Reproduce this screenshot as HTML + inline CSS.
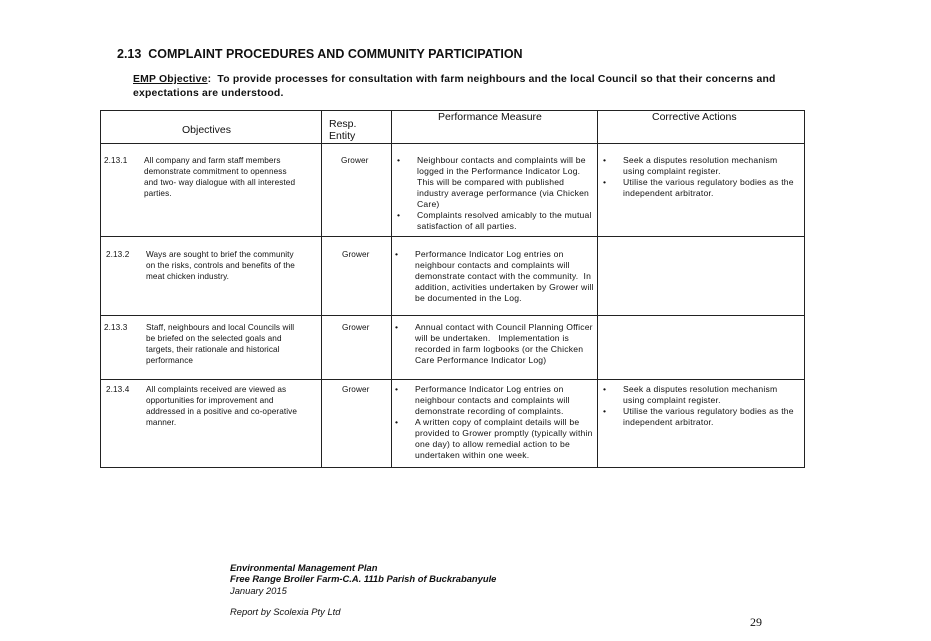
<!DOCTYPE html>
<html><head><meta charset="utf-8"><style>
body{margin:0;width:931px;height:641px;background:#fff;position:relative;overflow:hidden;font-family:"Liberation Sans",sans-serif;color:#111}
.a{position:absolute;white-space:nowrap}
.t{font-size:8.2px;letter-spacing:0.1px;line-height:11px}
.h{position:absolute;background:#222;height:1px}
.v{position:absolute;background:#222;width:1px}
.b{position:absolute}
.b li{list-style:none;position:relative;font-size:8.6px;letter-spacing:0.2px;line-height:11px;white-space:nowrap}
.b li:before{content:"•";position:absolute;left:-20px}
ul{margin:0;padding:0}
.f{font-style:italic;font-size:9.4px;line-height:11px}
</style></head><body>
<div class="a" style="left:117px;top:47px;font-size:12.5px;font-weight:bold">2.13&nbsp; COMPLAINT PROCEDURES AND COMMUNITY PARTICIPATION</div>
<div class="a" style="left:133px;top:73px;font-size:10.4px;letter-spacing:0.2px;font-weight:bold;line-height:14px"><u>EMP Objective</u>:&nbsp; To provide processes for consultation with farm neighbours and the local Council so that their concerns and<br>expectations are understood.</div>

<div class="h" style="left:100px;top:110px;width:705px"></div>
<div class="h" style="left:100px;top:143px;width:705px"></div>
<div class="h" style="left:100px;top:236px;width:705px"></div>
<div class="h" style="left:100px;top:315px;width:705px"></div>
<div class="h" style="left:100px;top:379px;width:705px"></div>
<div class="h" style="left:100px;top:467px;width:705px"></div>
<div class="v" style="left:100px;top:110px;height:358px"></div>
<div class="v" style="left:321px;top:110px;height:358px"></div>
<div class="v" style="left:391px;top:110px;height:358px"></div>
<div class="v" style="left:597px;top:110px;height:358px"></div>
<div class="v" style="left:804px;top:110px;height:358px"></div>

<div class="a" style="left:182px;top:124px;font-size:10.5px">Objectives</div>
<div class="a" style="left:329px;top:118px;font-size:10.5px;line-height:12px">Resp.<br>Entity</div>
<div class="a" style="left:438px;top:111px;font-size:10.5px">Performance Measure</div>
<div class="a" style="left:652px;top:111px;font-size:10.5px">Corrective Actions</div>

<div class="a t" style="left:104px;top:155px">2.13.1</div>
<div class="a t" style="left:144px;top:155px">All company and farm staff members<br>demonstrate commitment to openness<br>and two- way dialogue with all interested<br>parties.</div>
<div class="a t" style="left:341px;top:155px">Grower</div>
<ul class="b" style="left:417px;top:155px"><li>Neighbour contacts and complaints will be<br>logged in the Performance Indicator Log.<br>This will be compared with published<br>industry average performance (via Chicken<br>Care)</li><li>Complaints resolved amicably to the mutual<br>satisfaction of all parties.</li></ul>
<ul class="b" style="left:623px;top:155px"><li>Seek a disputes resolution mechanism<br>using complaint register.</li><li>Utilise the various regulatory bodies as the<br>independent arbitrator.</li></ul>

<div class="a t" style="left:106px;top:249px">2.13.2</div>
<div class="a t" style="left:146px;top:249px">Ways are sought to brief the community<br>on the risks, controls and benefits of the<br>meat chicken industry.</div>
<div class="a t" style="left:342px;top:249px">Grower</div>
<ul class="b" style="left:415px;top:249px"><li>Performance Indicator Log entries on<br>neighbour contacts and complaints will<br>demonstrate contact with the community.&nbsp; In<br>addition, activities undertaken by Grower will<br>be documented in the Log.</li></ul>

<div class="a t" style="left:104px;top:322px">2.13.3</div>
<div class="a t" style="left:146px;top:322px">Staff, neighbours and local Councils will<br>be briefed on the selected goals and<br>targets, their rationale and historical<br>performance</div>
<div class="a t" style="left:342px;top:322px">Grower</div>
<ul class="b" style="left:415px;top:322px"><li>Annual contact with Council Planning Officer<br>will be undertaken.&nbsp;&nbsp; Implementation is<br>recorded in farm logbooks (or the Chicken<br>Care Performance Indicator Log)</li></ul>

<div class="a t" style="left:106px;top:384px">2.13.4</div>
<div class="a t" style="left:146px;top:384px">All complaints received are viewed as<br>opportunities for improvement and<br>addressed in a positive and co-operative<br>manner.</div>
<div class="a t" style="left:342px;top:384px">Grower</div>
<ul class="b" style="left:415px;top:384px"><li>Performance Indicator Log entries on<br>neighbour contacts and complaints will<br>demonstrate recording of complaints.</li><li>A written copy of complaint details will be<br>provided to Grower promptly (typically within<br>one day) to allow remedial action to be<br>undertaken within one week.</li></ul>
<ul class="b" style="left:623px;top:384px"><li>Seek a disputes resolution mechanism<br>using complaint register.</li><li>Utilise the various regulatory bodies as the<br>independent arbitrator.</li></ul>

<div class="a f" style="left:230px;top:562px;font-weight:bold">Environmental Management Plan<br>Free Range Broiler Farm-C.A. 111b Parish of Buckrabanyule</div>
<div class="a f" style="left:230px;top:585px">January 2015</div>
<div class="a f" style="left:230px;top:606px">Report by Scolexia Pty Ltd</div>
<div class="a" style="left:750px;top:615px;font-family:'Liberation Serif',serif;font-size:12px">29</div>
</body></html>
